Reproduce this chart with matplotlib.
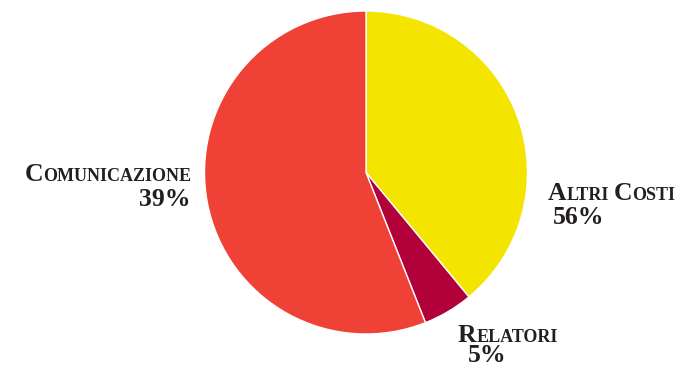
import matplotlib
matplotlib.use("Agg")
import matplotlib.pyplot as plt
from matplotlib.transforms import IdentityTransform

# Data (slice sizes as drawn, clockwise from 12 o'clock) and printed labels
categories = ["Altri Costi", "Relatori", "Comunicazione"]
slice_values = [39, 5, 56]
label_pcts = ["56%", "5%", "39%"]
colors = ["#F3E500", "#B1003A", "#EF4136"]

W, H = 684, 366
fig = plt.figure(figsize=(W / 100, H / 100), dpi=100)
fig.patch.set_facecolor("white")

cx, cy, r = 366, 366 - 172.5, 161.5
ax = fig.add_axes([(cx - r) / W, (cy - r) / H, 2 * r / W, 2 * r / H])
ax.pie(slice_values, colors=colors, startangle=90, counterclock=False,
       radius=1.0, wedgeprops=dict(edgecolor="white", linewidth=1.0))
ax.set_xlim(-1, 1)
ax.set_ylim(-1, 1)
ax.set_aspect("equal")
ax.axis("off")

FONT = "Liberation Serif"
TXT = "#231F20"
BIG = 18.5
SMALL = 13.0
renderer = fig.canvas.get_renderer()


def small_caps_parts(label):
    parts = []
    for word_i, word in enumerate(label.split(" ")):
        if word_i > 0:
            parts.append((" ", SMALL))
        parts.append((word[0].upper(), BIG))
        if len(word) > 1:
            parts.append((word[1:].upper(), SMALL))
    return parts


def draw_parts(x, y_top, parts, ha):
    y = H - y_top
    texts = []
    widths = []
    for s, size in parts:
        t = fig.text(0, 0, s, fontsize=size, family=FONT, weight="bold",
                     color=TXT, transform=IdentityTransform(),
                     va="baseline", ha="left")
        texts.append(t)
        if s == " ":
            widths.append(size * 100 / 72 * 0.25)
        else:
            widths.append(t.get_window_extent(renderer).width)
    total = sum(widths)
    start = x - total if ha == "right" else x
    for t, w in zip(texts, widths):
        t.set_position((start, y))
        start += w


# label name positions (x, baseline from top) and pct positions
name_pos = {
    "Altri Costi": (548, 200, "left"),
    "Relatori": (458, 342, "left"),
    "Comunicazione": (191, 181, "right"),
}
pct_pos = {
    "Altri Costi": (553, 224, "left"),
    "Relatori": (468, 362, "left"),
    "Comunicazione": (191, 206, "right"),
}

for cat, pct in zip(categories, label_pcts):
    x, yb, ha = name_pos[cat]
    draw_parts(x, yb, small_caps_parts(cat), ha)
    x, yb, ha = pct_pos[cat]
    draw_parts(x, yb, [(pct, BIG)], ha)

fig.savefig("out.png", dpi=100, facecolor="white")
